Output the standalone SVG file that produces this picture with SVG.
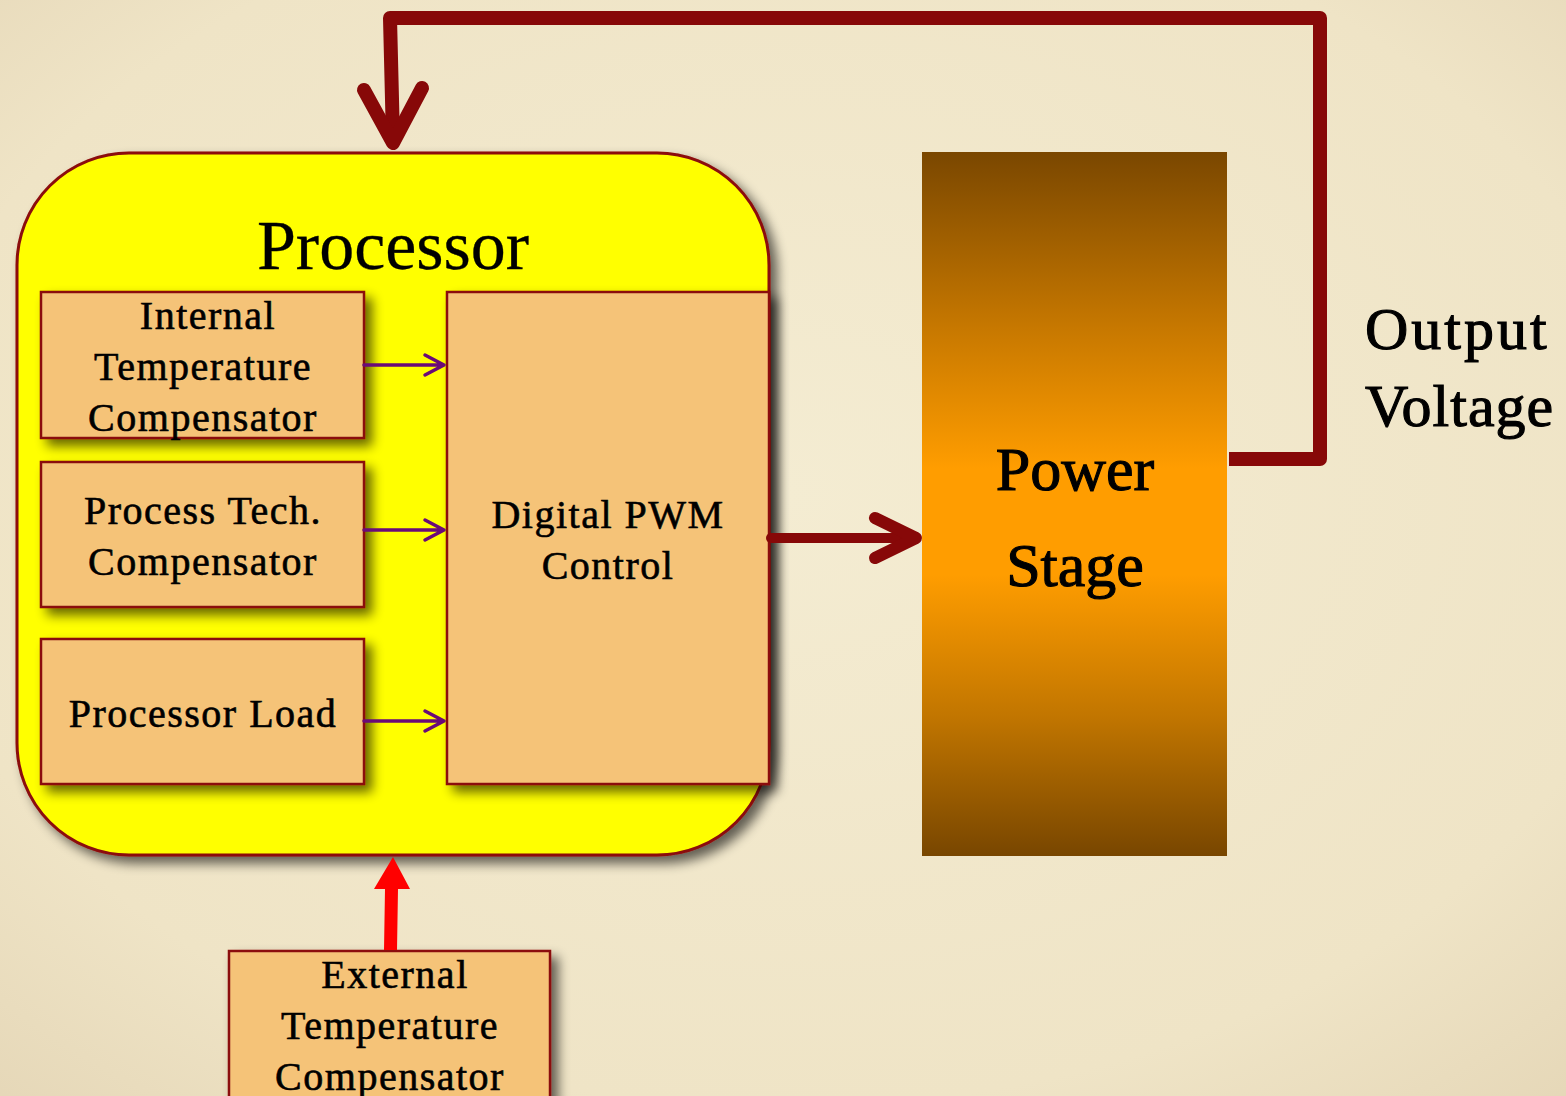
<svg xmlns="http://www.w3.org/2000/svg" width="1566" height="1096" viewBox="0 0 1566 1096">
  <style>
    .lbl { font-family: "Liberation Serif", "DejaVu Serif", serif; fill: #000; stroke: #000; stroke-width: 0.6; text-anchor: middle; }
    .small { font-size: 40px; letter-spacing: 1.5px; }
    .big { stroke-width: 1.1; }
    .box { fill: #f5c378; stroke: #8b1010; stroke-width: 2.5; }
    .sig { fill: none; stroke: #6a0a78; stroke-width: 3.5; stroke-linecap: round; stroke-linejoin: round; }
    .main { fill: none; stroke: #870808; stroke-linecap: round; stroke-linejoin: round; }
  </style>
  <defs>
    <radialGradient id="paper" cx="0.5" cy="0.45" r="0.8">
      <stop offset="0" stop-color="#f4ecd2"/>
      <stop offset="0.7" stop-color="#efe4c6"/>
      <stop offset="1" stop-color="#e3d4b4"/>
    </radialGradient>
    <linearGradient id="stage" x1="0" y1="0" x2="0" y2="1">
      <stop offset="0" stop-color="#7a4700"/>
      <stop offset="0.25" stop-color="#c77800"/>
      <stop offset="0.45" stop-color="#ff9d00"/>
      <stop offset="0.6" stop-color="#ff9d00"/>
      <stop offset="0.8" stop-color="#c27600"/>
      <stop offset="1" stop-color="#784600"/>
    </linearGradient>
    <filter id="shadow" x="-10%" y="-10%" width="130%" height="130%">
      <feGaussianBlur in="SourceAlpha" stdDeviation="6"/>
      <feOffset dx="7" dy="7" result="b"/>
      <feComponentTransfer><feFuncA type="linear" slope="0.6"/></feComponentTransfer>
      <feMerge><feMergeNode/><feMergeNode in="SourceGraphic"/></feMerge>
    </filter>
  </defs>

  <rect x="0" y="0" width="1566" height="1096" fill="url(#paper)"/>

  <!-- processor block -->
  <g id="processor">
    <rect x="17" y="153" width="752" height="702" rx="112" ry="112" fill="#ffff00" stroke="#8b0a0a" stroke-width="3" filter="url(#shadow)"/>
    <text class="lbl" x="393" y="269" font-size="70" style="stroke-width:0.3">Processor</text>
  </g>

  <g id="internal-temp">
    <rect class="box" x="41" y="292" width="323" height="146" filter="url(#shadow)"/>
    <text class="lbl small" x="208" y="329">Internal</text>
    <text class="lbl small" x="203" y="380">Temperature</text>
    <text class="lbl small" x="203" y="431">Compensator</text>
  </g>

  <g id="process-tech">
    <rect class="box" x="41" y="462" width="323" height="145" filter="url(#shadow)"/>
    <text class="lbl small" x="203" y="524">Process Tech.</text>
    <text class="lbl small" x="203" y="575">Compensator</text>
  </g>

  <g id="processor-load">
    <rect class="box" x="41" y="639" width="323" height="145" filter="url(#shadow)"/>
    <text class="lbl small" x="203" y="727">Processor Load</text>
  </g>

  <g id="pwm">
    <rect class="box" x="447" y="292" width="322" height="492" filter="url(#shadow)"/>
    <text class="lbl small" x="608" y="528">Digital PWM</text>
    <text class="lbl small" x="608" y="579">Control</text>
  </g>

  <g id="power-stage">
    <rect x="922" y="152" width="305" height="704" fill="url(#stage)"/>
    <text class="lbl big" x="1075" y="490" font-size="62">Power</text>
    <text class="lbl big" x="1075" y="586" font-size="62">Stage</text>
  </g>

  <g id="output-label">
    <text class="lbl big" x="1365" y="349" font-size="60" letter-spacing="3" style="text-anchor:start">Output</text>
    <text class="lbl big" x="1365" y="426" font-size="60" letter-spacing="1" style="text-anchor:start">Voltage</text>
  </g>

  <g id="external-temp">
    <rect class="box" x="229" y="951" width="321" height="160" filter="url(#shadow)"/>
    <text class="lbl small" x="395" y="988">External</text>
    <text class="lbl small" x="390" y="1039">Temperature</text>
    <text class="lbl small" x="390" y="1090">Compensator</text>
  </g>

  <g id="connectors">
    <!-- compensator inputs into the PWM controller -->
    <path class="sig" d="M364 365 H444 M425 355 L444 365 L425 375"/>
    <path class="sig" d="M364 530 H444 M425 520 L444 530 L425 540"/>
    <path class="sig" d="M364 721 H444 M425 711 L444 721 L425 731"/>
    <!-- PWM drive to power stage -->
    <path class="main" stroke-width="10" d="M771 538 H915"/>
    <path class="main" stroke-width="12" d="M875 518 L916 538 L875 558"/>
    <!-- output voltage feedback loop -->
    <path class="main" stroke-width="14" style="stroke-linecap:butt" d="M1229 459 H1320 V18 H390 L393 140"/>
    <path class="main" stroke-width="14" d="M364 90 L393 143 L422 88"/>
    <!-- external compensator into processor -->
    <polygon fill="#ff0000" points="384,950 385,889 374,889 393,857 410,889 398,889 397,950"/>
  </g>
</svg>
